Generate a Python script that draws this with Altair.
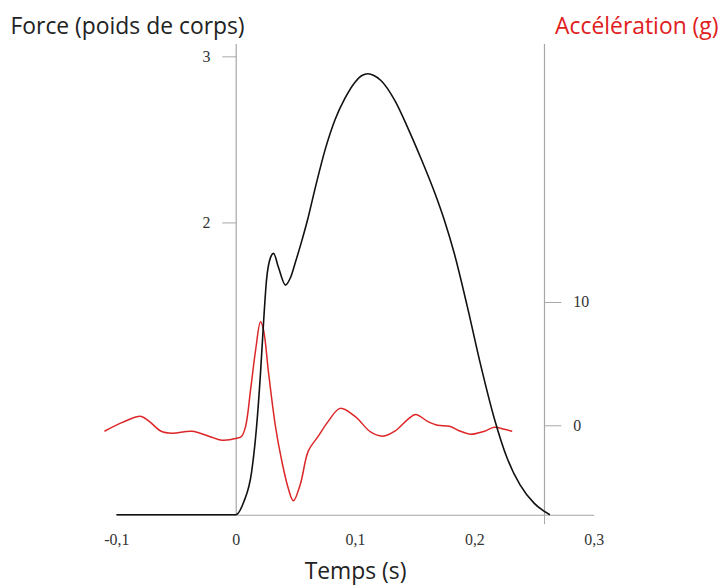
import altair as alt
import pandas as pd

# Force (body weights) vs time (s)
force_t = [-0.1, -0.05, 0.0, 0.0067, 0.0133, 0.0175, 0.0208, 0.0233, 0.0258, 0.0292, 0.0317,
           0.0358, 0.0417, 0.046, 0.05, 0.055, 0.06, 0.0667, 0.075, 0.0833, 0.0917,
           0.1, 0.1058, 0.1108, 0.1158, 0.1217, 0.1333, 0.1442, 0.155, 0.1667, 0.175, 0.1833, 0.1942,
           0.205, 0.2167, 0.2275, 0.2383, 0.25, 0.2633]
force_v = [0.24, 0.24, 0.24, 0.317, 0.497, 0.772, 1.096, 1.395, 1.653, 1.79, 1.814,
           1.73, 1.623, 1.67, 1.76, 1.88, 2.01, 2.21, 2.44, 2.62, 2.75,
           2.845, 2.885, 2.895, 2.885, 2.855, 2.735, 2.57, 2.39, 2.18, 2.01, 1.81, 1.49,
           1.15, 0.82, 0.58, 0.42, 0.31, 0.24]

# Acceleration (g) vs time (s)
acc_t = [-0.11, -0.095, -0.0792, -0.0725, -0.0625, -0.0533, -0.0367, -0.0225, -0.0117, 0.0008,
         0.005, 0.0083, 0.0125, 0.0167, 0.0208, 0.0233, 0.0275, 0.0333, 0.0383, 0.0442,
         0.0483, 0.0542, 0.0608, 0.0692, 0.0775, 0.0875, 0.1, 0.1133, 0.1233, 0.1333,
         0.1442, 0.1508, 0.1608, 0.1692, 0.1792, 0.1883, 0.1967, 0.2083, 0.2167, 0.225, 0.2317]
acc_v = [-0.48, 0.24, 0.72, 0.32, -0.48, -0.64, -0.48, -0.88, -1.21, -1.05,
         -0.88, -0.08, 2.9, 6.11, 8.37, 7.72, 4.26, -0.08, -2.74, -5.15,
         -6.11, -4.75, -2.09, -0.88, 0.32, 1.37, 0.72, -0.56, -0.88, -0.48,
         0.48, 0.88, 0.32, 0.0, -0.08, -0.48, -0.72, -0.48, -0.16, -0.32, -0.48]

x_ticks = [-0.1, 0.0, 0.1, 0.2, 0.3]
right_axis_time = 0.258
force_ticks = [2, 3]
acc_ticks = [0, 10]

force_df = pd.DataFrame({"t": force_t, "F": force_v})
acc_df = pd.DataFrame({"t": acc_t, "a": acc_v})

AXIS_GREY = "#a6a6a6"
LABEL_FONT = "Liberation Serif"
TITLE_FONT = "Open Sans"
TITLE_SIZE = 23

x_scale = alt.Scale(domain=[-0.1, 0.3], nice=False, zero=False)

x_axis = alt.Axis(
    values=x_ticks + [right_axis_time],
    labelExpr="datum.value > 0.25 && datum.value < 0.27 ? '' : replace(replace(format(datum.value, '.1~f'), '.', ','), '\u2212', '-')",
    grid=False,
    tickSize=9,
    tickColor=AXIS_GREY,
    tickOpacity={"condition": {"test": "datum.value > 0.25 && datum.value < 0.27", "value": 1}, "value": 0},
    domainColor=AXIS_GREY,
    domainWidth=1.2,
    labelPadding=8,
    labelFont=LABEL_FONT,
    labelFontSize=16,
    labelColor="#333333",
    labelFlush=False,
    title="Temps (s)",
    titleFont=TITLE_FONT,
    titleFontSize=TITLE_SIZE,
    titleFontWeight="normal",
    titleColor="#222222",
    titleY=57,
    titleBaseline="middle",
)

acc_line = alt.Chart(acc_df).mark_line(
    color="#dc2628", strokeWidth=1.5, interpolate="catmull-rom"
).encode(
    x=alt.X("t:Q", scale=x_scale, axis=x_axis),
    y=alt.Y(
        "a:Q",
        scale=alt.Scale(domain=[-7.24, 30.9], nice=False, zero=False),
        axis=alt.Axis(
            orient="right",
            offset=-50,
            values=acc_ticks,
            grid=False,
            tickSize=17,
            tickColor=AXIS_GREY,
            domainColor=AXIS_GREY,
            domainWidth=1.2,
            labelPadding=12,
            labelFont=LABEL_FONT,
            labelFontSize=16,
            labelColor="#333333",
            title="Accélération (g)",
            titleFont=TITLE_FONT,
            titleFontSize=TITLE_SIZE,
            titleFontWeight="normal",
            titleColor="#e02020",
            titleAngle=0,
            titleAlign="right",
            titleBaseline="middle",
            titleX=175,
            titleY=-17,
        ),
    ),
)

force_line = alt.Chart(force_df).mark_line(
    color="#111111", strokeWidth=1.6, interpolate="monotone"
).encode(
    x=alt.X("t:Q", scale=x_scale, axis=x_axis),
    y=alt.Y(
        "F:Q",
        scale=alt.Scale(domain=[0.24, 3.078], nice=False, zero=False),
        axis=alt.Axis(
            orient="left",
            offset=-120,
            values=force_ticks,
            grid=False,
            tickSize=14,
            tickColor=AXIS_GREY,
            domainColor=AXIS_GREY,
            domainWidth=1.2,
            labelPadding=12,
            labelFont=LABEL_FONT,
            labelFontSize=16,
            labelColor="#333333",
            title="Force (poids de corps)",
            titleFont=TITLE_FONT,
            titleFontSize=TITLE_SIZE,
            titleFontWeight="normal",
            titleColor="#222222",
            titleAngle=0,
            titleAlign="left",
            titleBaseline="middle",
            titleX=-227,
            titleY=-17,
        ),
    ),
)

chart = alt.layer(acc_line, force_line).resolve_scale(y="independent").properties(
    width=480,
    height=474,
    autosize="none",
    background="white",
    padding={"left": 109, "top": 34, "right": 125, "bottom": 72},
).configure_view(stroke=None)

chart.save("out.html", embed_options={"renderer": "svg", "actions": False})
